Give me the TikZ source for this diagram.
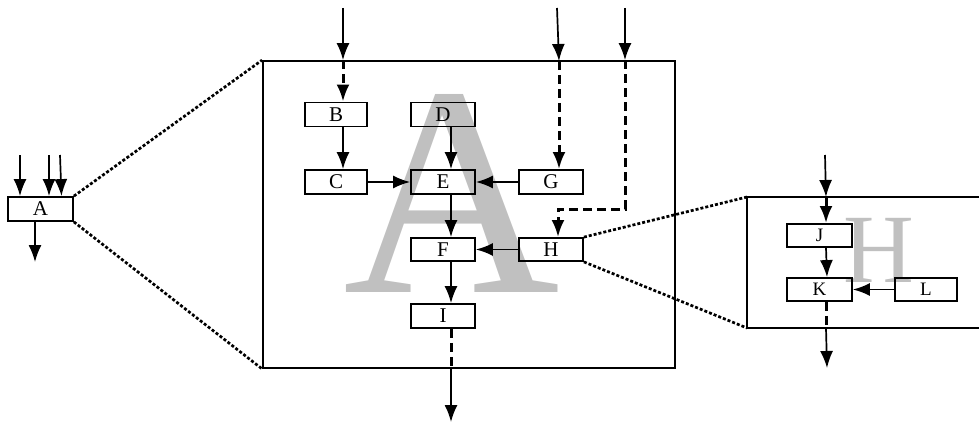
\documentclass[tikz,border=0pt]{standalone}
\usepackage{fontspec}
\setmainfont{Liberation Serif}
\usetikzlibrary{arrows.meta}
\definecolor{wm}{RGB}{192,192,192}
\tikzset{
  blk/.style={draw, line width=1.8pt, minimum width=62pt, minimum height=24pt, inner sep=0pt, font=\fontsize{21}{21}\selectfont},
  sblk/.style={blk, minimum height=23pt, font=\fontsize{19}{19}\selectfont},
  arr/.style={line width=1.7pt, -{Latex[length=17pt,width=13pt]}},
  dsh/.style={line width=3pt, dash pattern=on 9pt off 5pt},
  dsharr/.style={dsh, -{Latex[length=17pt,width=13pt]}},
  dot/.style={line width=2.7pt, dash pattern=on 3pt off 2pt},
  frame/.style={draw, line width=1.8pt}
}
\begin{document}
\begin{tikzpicture}[x=1pt,y=-1pt]
\useasboundingbox (0,0) rectangle (979,425);
% watermarks
\node[text=wm, anchor=base, inner sep=0pt, font=\fontsize{300}{300}\selectfont] (wA) at (452,292) {A};
\node[text=wm, anchor=base, inner sep=0pt, font=\fontsize{98}{98}\selectfont] (wH) at (879,282) {H};
% frames
\node[frame, minimum width=412pt, minimum height=307pt, inner sep=0pt] (P) at (469,214.5) {};
\coordinate (Snw) at (747,197);
\coordinate (Ssw) at (747,328);
\draw[line width=1.8pt] (981,197) -- (Snw) -- (Ssw) -- (981,328);
% blocks
\node[blk, minimum width=65pt] (A) at (40.5,209) {A};
\node[blk] (B) at (336,114.5) {B};
\node[blk, minimum width=64pt] (D) at (443,114.5) {D};
\node[blk] (C) at (336,182) {C};
\node[blk, minimum width=64pt] (E) at (443,182) {E};
\node[blk, minimum width=64pt] (G) at (551,182) {G};
\node[blk, minimum width=64pt, minimum height=23pt] (F) at (443,249.5) {F};
\node[blk, minimum width=64pt, minimum height=23pt] (H) at (551,249.5) {H};
\node[blk, minimum width=64pt] (I) at (443,316) {I};
\node[sblk, minimum width=65pt] (J) at (819.5,235.5) {\raisebox{-3pt}{J}};
\node[sblk, minimum width=65pt] (K) at (819.5,289.5) {\raisebox{-3pt}{K}};
\node[sblk] (L) at (926,289.5) {\raisebox{-3pt}{L}};
% dotted zoom lines
\draw[dot] (A.north east) -- (P.north west);
\draw[dot] (A.south east) -- (P.south west);
\draw[dot] (H.north east) -- (Snw);
\draw[dot] (H.south east) -- (Ssw);
% inputs to A
\coordinate (a1) at (20,155);
\coordinate (a2) at (49,155);
\coordinate (a3) at (60,155);
\coordinate (a4) at (35,262);
\draw[arr] (a1) -- (a1 |- A.north);
\draw[arr] (a2) -- (a2 |- A.north);
\draw[arr] (a3) -- ([xshift=1.5pt]A.north -| a3);
\draw[arr] (A.south -| a4) -- (a4);
% top inputs to big box
\coordinate (t1) at (343,8);
\coordinate (t2) at (557,8);
\coordinate (t2b) at (559,61);
\coordinate (t3) at (625,8);
\coordinate (t3b) at (625,209);
\draw[arr] (t1) -- (t1 |- P.north);
\draw[dsharr] (t1 |- P.north) -- ([xshift=7pt]B.north);
\draw[arr] (t2) -- (t2b);
\draw[dsharr] (t2b) -- ([xshift=8pt]G.north);
\draw[arr] (t3) -- (t3 |- P.north);
\draw[dsharr] (t3 |- P.north) -- (t3b) -| ([xshift=7pt]H.north);
% internal connectors
\draw[arr] ([xshift=7pt]B.south) -- ([xshift=7pt]C.north);
\draw[arr] ([xshift=8pt]D.south) -- ([xshift=8pt]E.north);
\draw[arr] (C) -- (E);
\draw[arr] (G) -- (E);
\draw[arr] ([xshift=8pt]E.south) -- ([xshift=8pt]F.north);
\draw[arr] (H) -- (F);
\draw[arr] ([xshift=8pt]F.south) -- ([xshift=8pt]I.north);
\coordinate (o1) at (451,422);
\draw[dsh] ([xshift=8pt]I.south) -- (o1 |- P.south);
\draw[arr] (o1 |- P.south) -- (o1);
% small box connectors
\coordinate (s1) at (825,155);
\coordinate (s1b) at (826,197);
\coordinate (s2) at (826,328);
\coordinate (s3) at (827,368);
\draw[arr] (s1) -- (s1b);
\draw[dsharr] (s1b) -- ([xshift=6.5pt]J.north);
\draw[arr] ([xshift=6.5pt]J.south) -- ([xshift=7.5pt]K.north);
\draw[arr] (L) -- (K);
\draw[dsh] ([xshift=6.5pt]K.south) -- (s2);
\draw[arr] (s2) -- (s3);
\end{tikzpicture}
\end{document}
